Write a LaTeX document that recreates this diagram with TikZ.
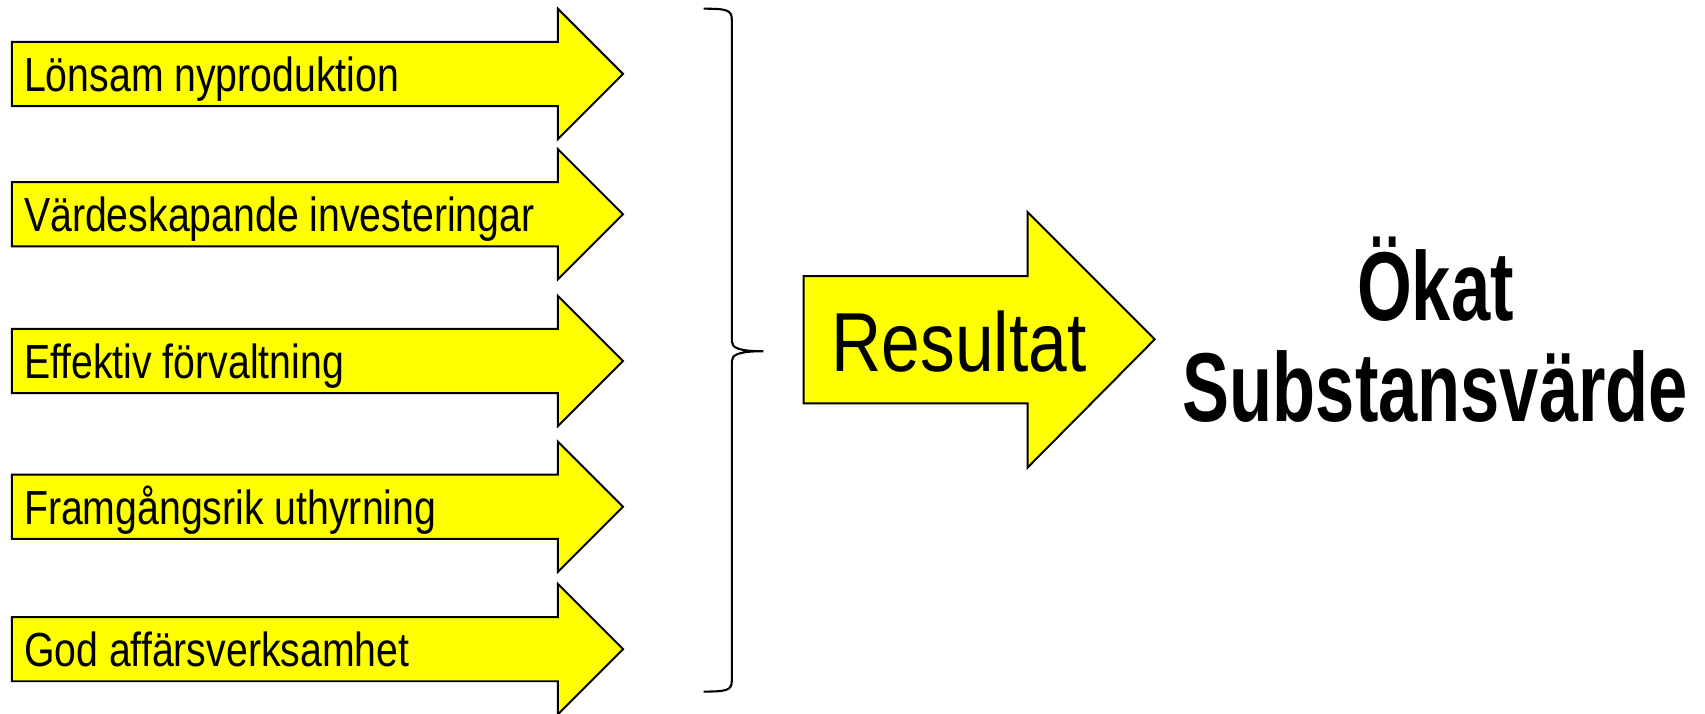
\documentclass[tikz,border=0pt]{standalone}
\usepackage{fontspec}
\setmainfont{Liberation Sans}
\newfontfamily\lblfont{Liberation Sans}[FakeStretch=0.82]
\newfontfamily\resfont{Liberation Sans}[FakeStretch=0.83]
\newfontfamily\bigfont{Liberation Sans}[FakeStretch=0.72]
\definecolor{ayellow}{RGB}{255,255,0}
\tikzset{
  yarrow/.style={draw=black, fill=ayellow, line width=1.8pt, line join=miter},
  lbl/.style={anchor=base west, inner sep=0pt, font=\lblfont\fontsize{44}{50}\selectfont},
  res/.style={anchor=base, inner sep=0pt, font=\resfont\fontsize{77}{80}\selectfont},
  big/.style={anchor=base, inner sep=0pt, font=\bigfont\bfseries\fontsize{90}{96}\selectfont},
  bracestyle/.style={draw=black, line width=1.9pt}
}
\begin{document}
\begin{tikzpicture}[x=1pt,y=-1pt]
\useasboundingbox (0,0) rectangle (1568,656);
\foreach \c/\t [count=\i] in {68/Lönsam nyproduktion, 197/Värdeskapande investeringar, 332/Effektiv förvaltning, 466/Framgångsrik uthyrning, 597/God affärsverksamhet} {
  \draw[yarrow] (11,\c-29.5) -- (513,\c-29.5) -- (513,\c-60) -- (573,\c) -- (513,\c+60) -- (513,\c+29.5) -- (11,\c+29.5) -- cycle;
  \node[lbl] (l\i) at (22,\c+16) {\t};
}
% brace
\draw[bracestyle] (647,8) .. controls (668,8) and (673,9) .. (673,18) -- (673,314)
  .. controls (673,320) and (680,323) .. (702,323)
  .. controls (680,323) and (673,326) .. (673,332) -- (673,626)
  .. controls (673,635) and (668,636) .. (647,636);
\coordinate (bt) at (702,323);
% big arrow
\draw[yarrow] (739,254) -- (945,254) -- (945,195) -- (1062,312) -- (945,430) -- (945,371) -- (739,371) -- cycle;
\node[res] (res) at (882,342) {Resultat};
\node[big] (okat) at (1320,295) {Ökat};
\node[big] (subst) at (1320,388) {Substansvärde};
\end{tikzpicture}
\end{document}
